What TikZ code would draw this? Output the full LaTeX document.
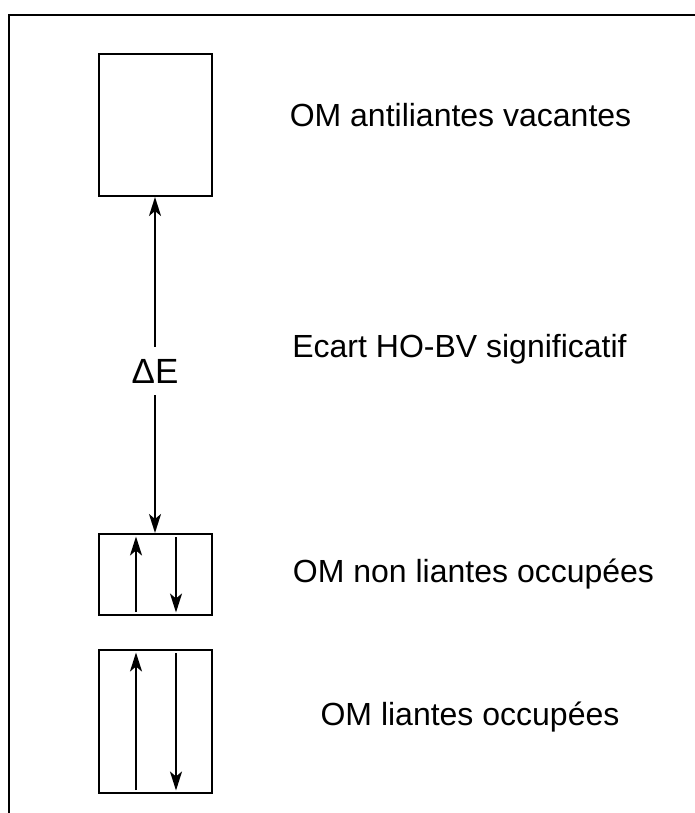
\documentclass[tikz,border=0pt]{standalone}
\usepackage{fontspec}
\setmainfont{Liberation Sans}
\usetikzlibrary{positioning, arrows, arrows.meta}

\begin{document}
\begin{tikzpicture}[x=1pt,y=-1pt,
  level/.style={draw,line width=2pt,minimum width=113pt,inner sep=0pt},
  lbl/.style={anchor=base,font=\fontsize{32}{37}\selectfont},
  spin/.style={line width=2.2pt,-{Stealth[length=19pt,width=12pt,inset=5pt]},shorten <=4pt,shorten >=3.5pt},
  gap/.style={line width=2.2pt,-{Stealth[length=19pt,width=12pt,inset=5pt]}}]
\useasboundingbox (0,0) rectangle (695,813);
\draw[line width=2pt] (695,15) -- (9,15) -- (9,813);
% niveaux
\node[level,minimum height=142pt] (vac) at (155,125) {};
\node[level,minimum height=81pt] (nl) at (155,574.5) {};
\node[level,minimum height=143pt] (li) at (155,721.5) {};
% ecart
\node[font=\fontsize{35}{40}\selectfont,inner xsep=2pt,inner ysep=12pt] (de) at (155,371) {ΔE};
\draw[gap] (de.north) -- (vac.south);
\draw[gap] (de.south) -- (nl.north);
% electrons
\draw[spin] ([xshift=-19pt]nl.south) -- ([xshift=-19pt]nl.north);
\draw[spin] ([xshift=21pt]nl.north) -- ([xshift=21pt]nl.south);
\draw[spin] ([xshift=-19pt]li.south) -- ([xshift=-19pt]li.north);
\draw[spin] ([xshift=21pt]li.north) -- ([xshift=21pt]li.south);
% textes
\node[lbl] (tvac) at (460.5,127) {OM antiliantes vacantes};
\node[lbl] (tde) at (459.5,357) {Ecart HO-BV significatif};
\node[lbl] (tnl) at (473.5,582) {OM non liantes occupées};
\node[lbl] (tli) at (470,725) {OM liantes occupées};
\end{tikzpicture}
\end{document}
